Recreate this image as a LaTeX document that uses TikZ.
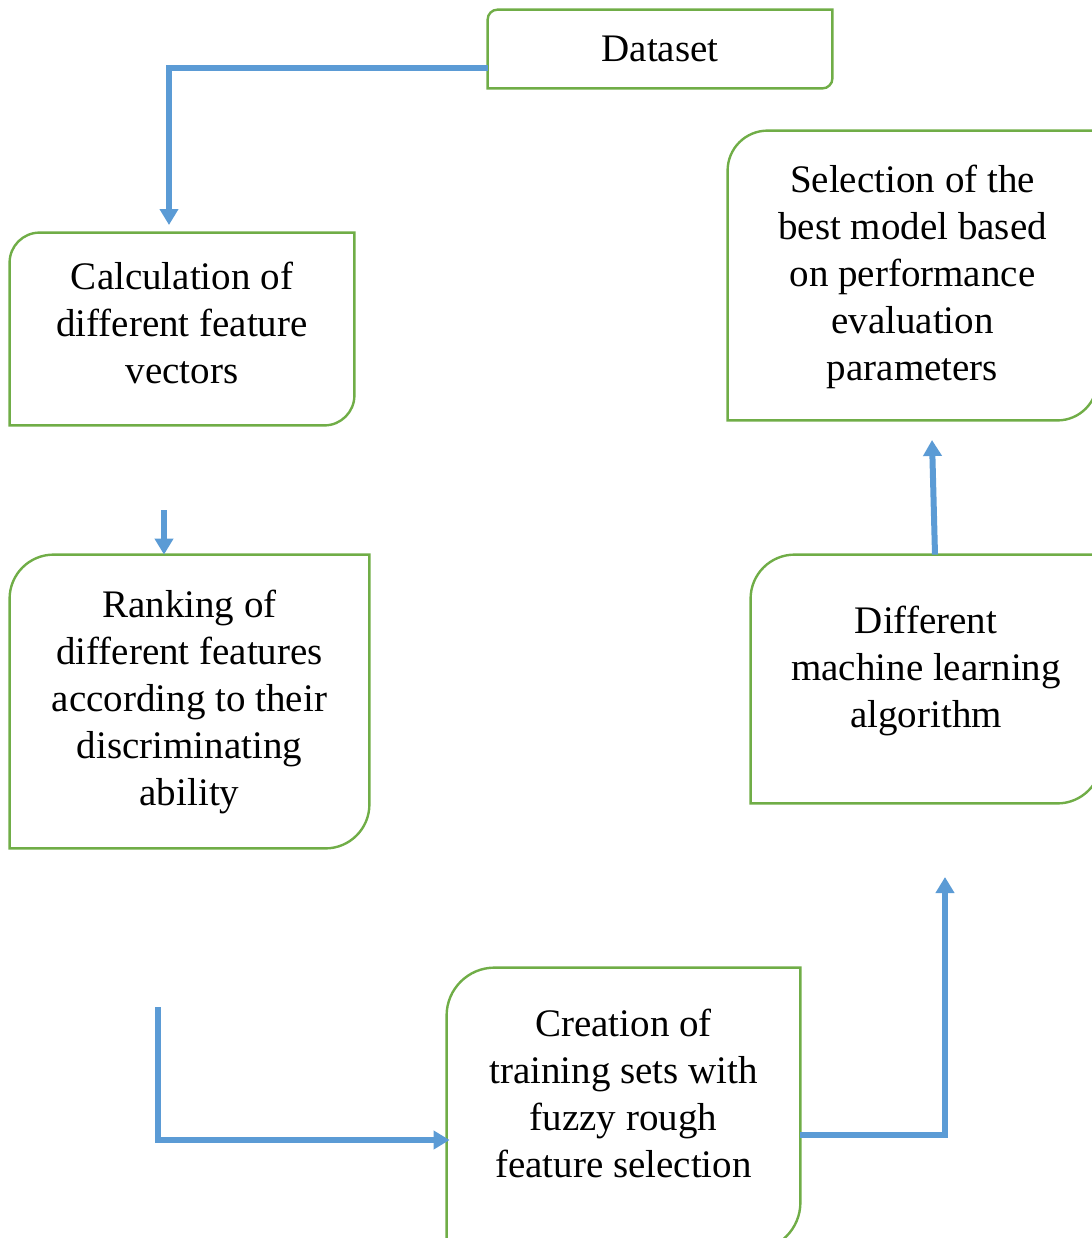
\documentclass[tikz,border=0pt]{standalone}
\usepackage{fontspec}
\setmainfont{Liberation Serif}
\usetikzlibrary{arrows.meta}
\definecolor{boxgreen}{HTML}{70AD47}
\definecolor{flowblue}{HTML}{5B9BD5}
\tikzset{
  stage/.style={inner sep=0pt,align=center,font=\fontsize{19.5pt}{23.5pt}\selectfont},
  frame/.style={inner sep=0pt},
  boxline/.style={draw=boxgreen,line width=1.2pt},
  flow/.style={draw=flowblue,line width=3pt,-{Triangle[length=8pt,width=9pt]}}
}
% border with rounded top-left and bottom-right corners
\newcommand{\diagbox}[2]{%
  \draw[boxline] ([xshift=#2]#1.north west) -- (#1.north east) -- ([yshift=#2]#1.south east)
    arc[start angle=0,end angle=-90,radius=#2] -- (#1.south west) -- ([yshift=-#2]#1.north west)
    arc[start angle=180,end angle=90,radius=#2] -- cycle;}
\begin{document}
\begin{tikzpicture}[x=0.5pt,y=-0.5pt]
\useasboundingbox (0,0) rectangle (1092,1238);
\clip (0,0) rectangle (1092,1238);
% stages
\node[frame,minimum width=172pt,minimum height=39pt,
  label={[stage]center:Dataset}] (data) at (660,49) {};
\node[frame,minimum width=172pt,minimum height=96pt,
  label={[stage,yshift=3pt]center:Calculation of\\different feature\\vectors}] (calc) at (182,329) {};
\node[frame,minimum width=179.5pt,minimum height=146.5pt,
  label={[stage]center:Ranking of\\different features\\according to their\\discriminating\\ability}] (rank) at (189.5,701.5) {};
\node[frame,minimum width=176.5pt,minimum height=141pt,
  label={[stage,yshift=8pt]center:Creation of\\training sets with\\fuzzy rough\\feature selection}] (create) at (623.5,1109) {};
\node[frame,minimum width=175pt,minimum height=124pt,
  label={[stage,yshift=4pt]center:Different\\machine learning\\algorithm}] (mla) at (926,679) {};
\node[frame,minimum width=184.5pt,minimum height=144.5pt,
  label={[stage,yshift=-0.5pt]center:Selection of the\\best model based\\on performance\\evaluation\\parameters}] (select) at (912.5,275.5) {};
\diagbox{data}{5pt}
\diagbox{calc}{15pt}
\diagbox{rank}{22pt}
\diagbox{create}{24pt}
\diagbox{mla}{22pt}
\diagbox{select}{20pt}
% free ends of the connectors
\coordinate (calcin) at (169,225);
\coordinate (rankfrom) at (164,510);
\coordinate (createfrom) at (158,1007);
\coordinate (mlain) at (945,877);
\coordinate (selectin) at (932,440);
% connectors
\draw[flow] ([yshift=-9.5pt]data.west) -| (calcin);
\draw[flow] (rankfrom) -- (rankfrom |- rank.north);
\draw[flow] (createfrom) |- ([yshift=-15.5pt,xshift=1.5pt]create.west);
\draw[flow] ([yshift=-13pt]create.east) -| (mlain);
\draw[flow] ([xshift=4.5pt]mla.north) -- (selectin);
\end{tikzpicture}
\end{document}
